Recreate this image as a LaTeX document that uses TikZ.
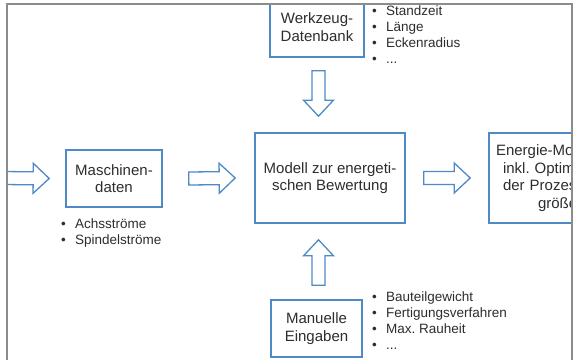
\documentclass[tikz,border=0pt]{standalone}
\usepackage{fontspec}
\setmainfont{Liberation Sans}
\usetikzlibrary{calc}
\frenchspacing
\definecolor{boxblue}{RGB}{78,138,198}
\definecolor{framegray}{RGB}{140,140,140}
\definecolor{textgray}{RGB}{45,45,45}
\newcommand\blockarr[2]{%
  \path (#2) coordinate (tmpT) ($(#2)!16pt!(#1)$) coordinate (tmpH) (#1) coordinate (tmpS);
  \draw[blockarrow] ($(tmpS)!6.5pt!90:(tmpT)$) -- ($(tmpH)!6.5pt!90:(tmpT)$)
    -- ($(tmpH)!15pt!90:(tmpT)$) -- (tmpT) -- ($(tmpH)!15pt!-90:(tmpT)$)
    -- ($(tmpH)!6.5pt!-90:(tmpT)$) -- ($(tmpS)!6.5pt!-90:(tmpT)$) -- cycle;}
\newcommand\bitem[1]{\makebox[14pt][l]{•}#1}
\begin{document}
\begin{tikzpicture}[x=1pt,y=-1pt,
  box/.style={draw=boxblue, line width=1.6pt, fill=white, align=center,
    font=\fontsize{15}{17.5}\selectfont, text=textgray, inner sep=0pt},
  blockarrow/.style={draw=boxblue, line width=1.3pt, fill=white, line join=miter},
  bullets/.style={font=\fontsize{13.5}{16}\selectfont, text=textgray, inner sep=0pt, anchor=base west}]
\useasboundingbox[fill=white] (0,0) rectangle (577,359);
\begin{scope}
\clip (7,4) rectangle (572,362);
\node[box, minimum width=96pt, minimum height=57pt] (masch) at (114,178.5) {Maschinen-\\daten};
\node[box, minimum width=150pt, minimum height=90pt] (modell) at (330,178) {Modell zur energeti-\\schen Bewertung};
\node[box, minimum width=94pt, minimum height=60pt] (werk) at (317,27) {Werkzeug-\\Datenbank};
\node[box, minimum width=91pt, minimum height=57pt] (manu) at (316.5,328.5) {Manuelle\\Eingaben};
\node[box, minimum width=150pt, minimum height=90pt, text width=136pt, align=left] (energie) at (564,178)
  {Energie-Modell\\\hspace*{7pt}inkl. Optimierung\\\hspace*{7pt}der Prozess-\\\hspace*{42pt}größen};
% arrows
\coordinate (a1s) at (3,178);
\coordinate (a1t) at ([xshift=-16pt]masch.west);
\coordinate (a2s) at ([xshift=26pt]masch.east);
\coordinate (a2t) at ([xshift=-19pt]modell.west);
\coordinate (a3s) at ([xshift=18pt]modell.east);
\coordinate (a3t) at ([xshift=-18pt]energie.west);
\coordinate (a4s) at ($(werk.south)+(1.5,13)$);
\coordinate (a4t) at ([yshift=16pt]modell.north -| a4s);
\coordinate (a5s) at ($(manu.north)+(2,-14)$);
\coordinate (a5t) at ([yshift=-16pt]modell.south -| a5s);
\blockarr{a1s}{a1t}
\blockarr{a2s}{a2t}
\blockarr{a3s}{a3t}
\blockarr{a4s}{a4t}
\blockarr{a5s}{a5t}
\end{scope}
\draw[framegray, line width=1.2pt] (7,362) -- (7,4) -- (572,4) -- (572,362);
% lists
\node[bullets] (listw) at (372,15) {\begin{tabular}[t]{@{}l@{}}\bitem{Standzeit}\\\bitem{Länge}\\\bitem{Eckenradius}\\\bitem{...}\end{tabular}};
\node[bullets] (listm) at (61,228) {\begin{tabular}[t]{@{}l@{}}\bitem{Achsströme}\\\bitem{Spindelströme}\end{tabular}};
\node[bullets] (liste) at (372,301) {\begin{tabular}[t]{@{}l@{}}\bitem{Bauteilgewicht}\\\bitem{Fertigungsverfahren}\\\bitem{Max. Rauheit}\\\bitem{...}\end{tabular}};
\end{tikzpicture}
\end{document}
